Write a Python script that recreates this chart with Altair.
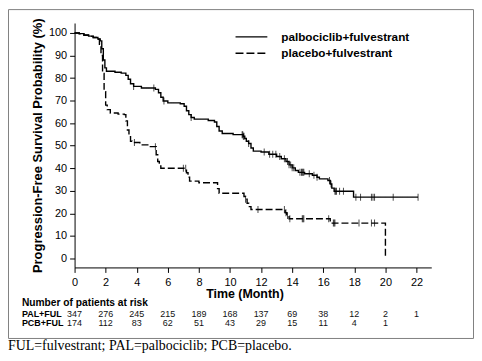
import altair as alt
import pandas as pd
import numpy as np

# ---------------- data ----------------
series_names = ["palbociclib+fulvestrant", "placebo+fulvestrant"]
arm_codes = ["PAL+FUL", "PCB+FUL"]

pal_time = [0, 0.3, 0.6, 0.9, 1.2, 1.5, 1.65, 1.75, 1.85, 1.95, 2.05, 2.6, 3.0, 3.3, 3.45, 3.6,
            3.8, 4.3, 5.2, 5.4, 5.55, 5.7, 6.0, 6.8, 7.05, 7.2, 7.35, 7.5, 7.7, 8.6, 9.0,
            9.15, 9.3, 9.5, 10.2, 10.85, 10.95, 11.05, 11.2, 11.35, 11.5, 12.0, 12.5, 13.0,
            13.3, 13.6, 13.8, 14.0, 14.2, 14.4, 14.8, 15.3, 15.6, 15.75, 16.3, 16.45, 16.55,
            16.7, 17.95, 22.1]
pal_surv = [100, 99.7, 99.1, 98.6, 98.0, 97.3, 96.5, 93.0, 88.0, 84.5, 83.0, 82.6, 82.2, 81.2,
            79.5, 77.5, 76.3, 75.6, 75.0, 73.5, 71.5, 69.8, 69.0, 68.6, 67.5, 65.5, 63.8, 62.5,
            61.8, 61.2, 60.5, 58.5, 56.5, 55.4, 54.9, 54.2, 53.2, 52.0, 51.0, 49.0, 47.6, 47.2,
            46.2, 45.2, 44.2, 43.0, 41.5, 40.2, 39.0, 38.2, 37.6, 36.9, 36.0, 35.3, 34.6, 33.0,
            31.2, 29.8, 27.2, 27.2]

pcb_time = [0, 0.3, 0.6, 0.9, 1.2, 1.5, 1.6, 1.7, 1.8, 1.9, 2.0, 2.1, 2.3, 2.8, 3.2, 3.3, 3.4,
            3.5, 3.6, 3.7, 4.2, 4.8, 5.25, 5.35, 5.45, 5.55, 7.2, 7.3, 7.4, 8.0, 9.2, 9.3,
            10.9, 11.0, 11.1, 11.2, 11.35, 13.55, 13.65, 13.8, 16.45, 20.0]
pcb_surv = [100, 99.6, 99.0, 98.5, 98.0, 97.2, 95.0, 90.0, 82.0, 74.0, 68.0, 66.0, 64.5, 64.0,
            63.8, 61.0, 57.0, 54.0, 52.0, 51.4, 50.4, 49.6, 46.0, 43.0, 41.0, 40.0, 38.0, 36.0,
            34.3, 33.6, 31.0, 28.9, 27.5, 26.3, 24.5, 23.0, 21.7, 20.3, 19.0, 17.6, 15.7, 0]

pal_censor = [3.8, 5.1, 5.75, 7.5, 10.78, 10.82, 10.86, 10.9, 11.2, 12.2, 12.55, 12.75, 12.95,
              13.2, 13.5, 13.7, 13.8, 13.9, 14.0, 14.1, 14.5, 14.6, 14.65, 14.7, 14.75, 15.1,
              15.4, 15.6, 16.4, 16.5, 16.75, 16.8, 16.85, 17.05, 17.3, 18.1, 18.4, 19.1, 19.2,
              19.3, 20.5, 22.1]
pcb_censor = [3.85, 5.2, 7.0, 7.15, 11.0, 11.8, 13.5, 13.6, 13.7, 13.85, 14.65, 14.7, 14.75,
              16.35, 16.65, 16.7, 16.75, 18.3, 19.1, 19.3]

risk_times = [0, 2, 4, 6, 8, 10, 12, 14, 16, 18, 20, 22]
pal_risk = ["347", "276", "245", "215", "189", "168", "137", "69", "38", "12", "2", "1"]
pcb_risk = ["174", "112", "83", "62", "51", "43", "29", "15", "11", "4", "1", ""]

y_ticks = [0, 10, 20, 30, 40, 50, 60, 70, 80, 90, 100]
risk_title = "Number of patients at risk"
caption = "FUL=fulvestrant; PAL=palbociclib; PCB=placebo."

assert len(pal_time) == len(pal_surv) and len(pcb_time) == len(pcb_surv)

# ---------------- tables ----------------
def step_value(times, surv, t):
    idx = np.searchsorted(np.array(times), t, side="right") - 1
    return surv[max(idx, 0)]

curves = pd.concat([
    pd.DataFrame({"time": pal_time, "surv": pal_surv, "arm": series_names[0]}),
    pd.DataFrame({"time": pcb_time, "surv": pcb_surv, "arm": series_names[1]}),
])
cens = pd.concat([
    pd.DataFrame({"time": pal_censor,
                  "surv": [step_value(pal_time, pal_surv, t) for t in pal_censor],
                  "arm": series_names[0]}),
    pd.DataFrame({"time": pcb_censor,
                  "surv": [step_value(pcb_time, pcb_surv, t) for t in pcb_censor],
                  "arm": series_names[1]}),
])
risk_pal = pd.DataFrame({"time": risk_times, "n": pal_risk})
risk_pcb = pd.DataFrame({"time": risk_times, "n": pcb_risk})

FONT = "Liberation Sans"
W, H = 359, 246

x_enc = alt.X("time:Q",
              scale=alt.Scale(domain=[0, 22.95], nice=False, zero=False),
              axis=alt.Axis(values=risk_times, title="Time (Month)", format="d",
                            titleFontSize=12.5, titleFontWeight="bold", titleX=171,
                            titlePadding=0, labelFontSize=11, tickSize=5, labelPadding=4,
                            grid=False, labelFlush=False))
y_enc = alt.Y("surv:Q",
              scale=alt.Scale(domain=[-3.965, 104.405], nice=False, zero=False),
              axis=alt.Axis(values=y_ticks, title="Progression-Free Survival Probability (%)",
                            titleFontSize=13, titleFontWeight="bold", titlePadding=4,
                            labelFontSize=11, tickSize=5, labelPadding=3, grid=False,
                            labelFlush=False))

dash_scale = alt.Scale(domain=series_names, range=[[1, 0], [7, 3]])

lines = alt.Chart(curves).mark_line(interpolate="step-after", color="black", strokeWidth=1.4).encode(
    x=x_enc, y=y_enc,
    strokeDash=alt.StrokeDash("arm:N", scale=dash_scale, legend=None),
)
ticks = alt.Chart(cens).mark_tick(orient="vertical", size=7, thickness=1, color="black").encode(
    x=x_enc, y=y_enc,
)

# risk table
risk_head = alt.Chart(pd.DataFrame({"t": [risk_title]})).mark_text(
    align="left", baseline="middle", font=FONT, fontSize=10.3, fontWeight="bold", color="black"
).encode(x=alt.value(-53), y=alt.value(282), text="t:N")
row_lab1 = alt.Chart(pd.DataFrame({"t": [arm_codes[0]]})).mark_text(
    align="left", baseline="middle", font=FONT, fontSize=9, fontWeight="bold", color="black"
).encode(x=alt.value(-53), y=alt.value(292.5), text="t:N")
row_lab2 = alt.Chart(pd.DataFrame({"t": [arm_codes[1]]})).mark_text(
    align="left", baseline="middle", font=FONT, fontSize=9, fontWeight="bold", color="black"
).encode(x=alt.value(-53), y=alt.value(301.5), text="t:N")
num1 = alt.Chart(risk_pal).mark_text(
    align="center", baseline="middle", font=FONT, fontSize=9, color="#111111"
).encode(x=x_enc, y=alt.value(292.5), text="n:N")
num2 = alt.Chart(risk_pcb).mark_text(
    align="center", baseline="middle", font=FONT, fontSize=9, color="#111111"
).encode(x=x_enc, y=alt.value(301.5), text="n:N")

# legend
one = pd.DataFrame({"a": [0]})
leg_line1 = alt.Chart(one).mark_rule(color="black", strokeWidth=1.4).encode(
    x=alt.value(162), x2=alt.value(194), y=alt.value(14))
leg_line2 = alt.Chart(one).mark_rule(color="black", strokeWidth=1.4, strokeDash=[8, 3]).encode(
    x=alt.value(162), x2=alt.value(194), y=alt.value(30.5))
leg_txt1 = alt.Chart(pd.DataFrame({"t": [series_names[0]]})).mark_text(
    align="left", baseline="middle", font=FONT, fontSize=11.8, fontWeight="bold", color="black"
).encode(x=alt.value(208), y=alt.value(14), text="t:N")
leg_txt2 = alt.Chart(pd.DataFrame({"t": [series_names[1]]})).mark_text(
    align="left", baseline="middle", font=FONT, fontSize=11.8, fontWeight="bold", color="black"
).encode(x=alt.value(208), y=alt.value(30.5), text="t:N")

# frame and caption
frame = alt.Chart(one).mark_rect(fillOpacity=0, stroke="#808080", strokeWidth=1).encode(
    x=alt.value(-66.5), x2=alt.value(401.5), y=alt.value(-13.5), y2=alt.value(317.5))
cap = alt.Chart(pd.DataFrame({"t": [caption]})).mark_text(
    align="left", baseline="alphabetic", font="Liberation Serif", fontSize=14, color="black"
).encode(x=alt.value(-67), y=alt.value(329), text="t:N")

chart = alt.layer(
    frame, lines, ticks, risk_head, row_lab1, row_lab2, num1, num2,
    leg_line1, leg_line2, leg_txt1, leg_txt2, cap
).properties(
    width=W, height=H,
    autosize=alt.AutoSizeParams(type="none"),
    padding={"left": 67, "top": 14, "right": 43, "bottom": 85},
    background="white",
).configure_view(stroke=None).configure_axis(
    domainColor="black", tickColor="black", labelColor="black", titleColor="black",
    labelFont=FONT, titleFont=FONT, domainWidth=1, tickWidth=1,
)

chart.save("out.html", embed_options={"renderer": "svg", "actions": False})
